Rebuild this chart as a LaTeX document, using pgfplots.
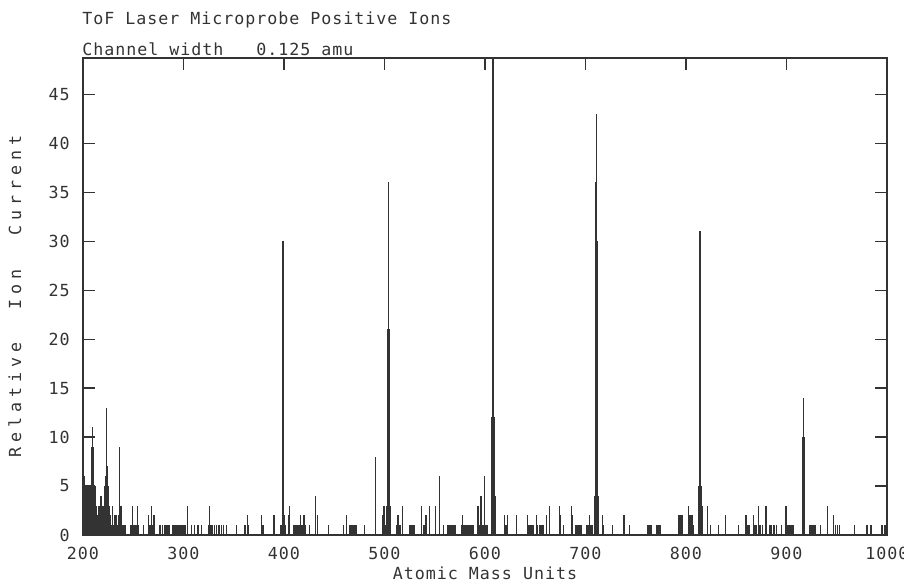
\documentclass[border=0pt]{standalone}
\usepackage{fontspec}
\usepackage{pgfplots}
\pgfplotsset{compat=1.18}
\newfontfamily\plotfont[LetterSpace=5.8]{DejaVu Sans Mono}
\newfontfamily\ylabfont[LetterSpace=29.8]{DejaVu Sans Mono}
\newcommand\ws{\hspace*{8.25pt}}
\newcommand\pf{\plotfont\fontsize{12.5pt}{14pt}\selectfont}
\definecolor{ink}{gray}{0.2}

% low level channels (amu, relative current)
\pgfplotstableread{
x y
200.0 6
200.5 6
201.0 6
201.5 5
202.0 5
202.5 5
203.0 5
203.5 5
204.0 5
204.5 5
205.0 5
205.5 3
206.0 3
206.5 5
207.0 5
207.5 5
208.0 5
208.5 5
209.0 9
209.5 11
210.0 9
210.5 9
211.0 5
211.5 5
212.0 5
212.5 5
213.0 3
213.5 2
214.0 2
214.5 2
215.0 2
215.5 2
216.0 3
216.5 2
217.0 2
217.5 2
218.0 4
218.5 2
219.0 2
219.5 1
220.0 3
220.5 2
221.0 2
221.5 5
222.0 6
222.5 6
223.0 13
223.5 7
224.0 7
224.5 5
225.0 5
225.5 5
226.0 3
226.5 2
227.0 2
227.5 1
228.0 1
228.5 1
229.0 3
229.5 1
230.0 1
230.5 1
231.0 2
231.5 2
232.0 2
232.5 1
233.0 1
233.5 2
234.0 1
234.5 1
235.0 1
235.5 2
236.0 3
236.5 9
237.0 3
237.5 3
238.0 3
238.5 1
239.0 1
239.5 1
240.0 1
240.5 1
241.0 1
241.5 1
242.0 1
247 1
248 1
249 3
250 1
251 1
252 1
253 1
254 3
255 1
260 1
265 2
266 1
267 1
268 3
269 1
270 2
271.5 2
276 1
277.5 1
279 1
281 1
282 1
283 1
284 1
285 1
286 1
289.5 1
291 1
292 1
293 1
294 1
295 1
296 1
297 1
298 1
299 1
300 1
301 1
302 1
304 3
308 1
311 1
314.5 1
318 1
324.5 1
326 3
327 1
328 1
329 1
331 1
333 1
335 1
336 1
338 1
340 1
342.5 1
353 1
361 1
362 1
363.5 2
364 1
365 1
378 2
379 1
380 1
390 2
397 1
398 1
400.5 1
401 1
404.4 2
405.8 3
410 1
411 1
412 1
413 1
414 1
415 1
416.7 2
417 1
418 1
420 2
421 1
425 1
431.6 4
433 2
444.3 1
458.9 1
462 2
465 1
466 1
467 1
468 1
469 1
470 1
471 1
472 1
480 1
491 8
498.5 2
499.5 3
500 1
501 1
512 1
513.4 2
514 1
515 1
516 1
517.7 3
525 1
526 1
527 1
528 1
529 1
530 1
536.6 3
539 1
540 1
541 2
542 2
545 3
551 3
555 6
558.9 1
563 1
564 1
565 1
566 1
567 1
568 1
569 1
570 1
571 1
577 1
578 2
579 1
580 1
581 1
582 1
584 1
585 1
586 1
587 1
588 1
593 3
594 1
595 1
596 4
597 1
598 1
599.6 6
600.5 1
601 1
602 1
619.5 2
620 1
621 1
622 2
631.7 2
642 2
643 1
644 1
645 1
646 1
647 1
648 1
651 2
652 1
654 1
655 1
656 1
657 1
658 1
661 2
664.2 3
674.2 3
675 2
678 1
686.4 3
687 2
690 1
691 1
692 1
693 1
694 1
695 1
696 1
701 1
702 1
703 1
704 2
705 1
706 1
707 1
716.6 2
718 1
727 1
738 2
739 2
743.7 1
762 1
763 1
764 1
765 1
766 1
771 1
772 1
773 1
774 1
775 1
792.4 2
793 2
794 2
795 2
796.7 2
802.2 3
804 2
805 1
806 2
807 1
821.3 3
824 1
832.6 1
839 2
852 1
859.8 2
861 1
862 1
863 1
867.3 2
868 1
869 1
870 1
872.3 3
873 1
874 1
876 1
879.6 3
883 1
884 1
885 1
887 1
888 1
890 1
895 1
899.5 3
901 1
902 1
903 1
904 1
905 1
906 1
907 1
923 1
924 1
925 1
926 1
927 1
928 1
929 1
934.2 1
940.8 3
946.8 2
949 1
951 1
953 1
967.7 1
980 1
981 1
984 1
995 1
998 1
}\lowtab

% the six main peaks with their neighbouring channels
\pgfplotstableread{
x y
398.5 6
399.0 30
399.5 6
400.0 2
502.5 3
503.0 10
503.5 21
504.0 36
504.5 21
505.0 8
506.0 3
606.5 4
607.0 12
607.5 35
608.0 50
608.5 35
609.0 12
610.0 4
709.5 4
710.0 12
710.5 36
711.0 43
711.5 30
712.0 10
713.0 4
813.0 5
813.5 14
814.0 31
814.5 14
815.0 5
816.0 3
916.0 3
916.5 10
917.0 14
917.5 10
918.0 4
}\peaktab

\begin{document}
\begin{tikzpicture}
\begin{axis}[
  name=ax, at={(0,0)}, anchor=south west,
  scale only axis, width=603pt, height=357.75pt,
  xmin=200, xmax=1000, ymin=0, ymax=48.7,
  axis line style={ink, line width=0.9pt},
  xtick={200,300,...,1000},
  ytick={0,5,...,45},
  xtick pos=right, xticklabel pos=left,
  yticklabel pos=left,
  tick align=inside,
  major tick length=9.25pt,
  every tick/.style={ink, line width=0.9pt},
  tick label style={font=\pf, text=ink, inner sep=0pt},
  /pgf/number format/assume math mode=true,
  /pgf/number format/1000 sep={},
  xticklabel style={anchor=north, yshift=-9pt},
  yticklabel style={anchor=east, xshift=-9.75pt},
  xlabel={Atomic\ws Mass\ws Units},
  xlabel style={font=\pf, text=ink, inner sep=0pt,
    at={(axis description cs:0.5,-0.0943)}, anchor=base},
  ylabel={Relative\hspace*{24.75pt}Ion\hspace*{24.75pt}Current},
  ylabel style={font=\ylabfont\fontsize{12.5pt}{14pt}\selectfont, text=ink, inner sep=0pt,
    at={(axis description cs:-0.0771,0.5)}, anchor=base},
]
\addplot[ycomb, ink, line width=0.9pt, mark=none] table {\lowtab};
\addplot[ycomb, ink, line width=0.9pt, mark=none] table {\peaktab};
\end{axis}
\node[anchor=base west, inner sep=0pt, font=\pf, text=ink]
  at ([xshift=-0.75pt, yshift=24.75pt]ax.north west)
  {ToF\ws Laser\ws Microprobe\ws Positive\ws Ions};
\node[anchor=base west, inner sep=0pt, font=\pf, text=ink]
  at ([xshift=-0.75pt, yshift=1.5pt]ax.north west)
  {Channel\ws width\ws\ws\ws 0.125\ws amu};
\pgfresetboundingbox
\path[use as bounding box] (-62.25pt,-36pt) rectangle (615.75pt,401.25pt);
\end{tikzpicture}
\end{document}
